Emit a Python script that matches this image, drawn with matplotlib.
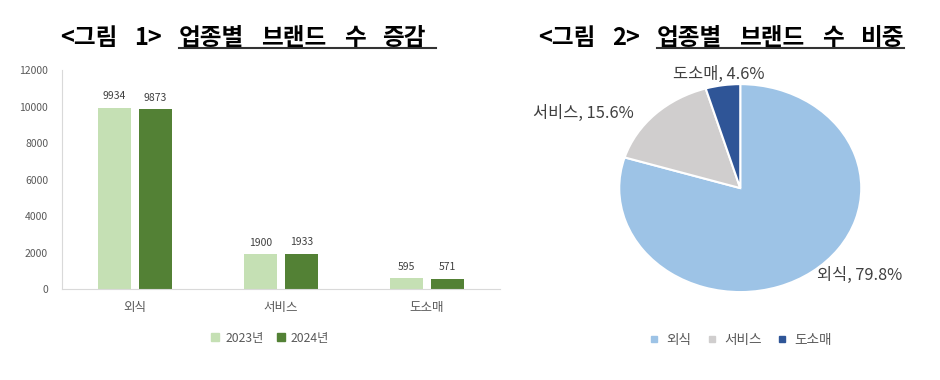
import matplotlib
matplotlib.use('Agg')
import matplotlib.pyplot as plt
import numpy as np
from matplotlib.lines import Line2D

plt.rcParams['font.family'] = ['Noto Sans CJK KR', 'DejaVu Sans']

# 데이터
categories = ['외식', '서비스', '도소매']
years = ['2023년', '2024년']
brands_2023 = [9934, 1900, 595]
brands_2024 = [9873, 1933, 571]
yticks = [0, 2000, 4000, 6000, 8000, 10000, 12000]

bar_colors = ['#C5E0B4', '#538135']
pie_colors = ['#9DC3E6', '#D0CECE', '#2F5597']
text_gray = '#595959'

fig = plt.figure(figsize=(9.4, 3.8), dpi=100)

# 그림 1: 막대 그래프
ax1 = fig.add_axes([0.066, 0.2395, 0.466, 0.576])
x = np.arange(len(categories))
w = 0.226
off = 0.14
for vals, col, sh in zip([brands_2023, brands_2024], bar_colors, [-off, off]):
    bars = ax1.bar(x + sh, vals, width=w, color=col)
    for b, v in zip(bars, vals):
        ax1.text(b.get_x() + b.get_width() / 2, v + 350, str(v),
                 ha='center', va='bottom', fontsize=7.5, color='#404040')

ax1.set_xlim(-0.5, 2.5)
ax1.set_ylim(0, 12000)
ax1.set_yticks(yticks)
ax1.set_xticks(x)
ax1.set_xticklabels(categories, fontsize=9, color=text_gray)
ax1.tick_params(axis='y', labelsize=7.5, colors=text_gray, length=0, pad=10)
ax1.tick_params(axis='x', length=0, pad=9)
for s in ['top', 'right']:
    ax1.spines[s].set_visible(False)
for s in ['left', 'bottom']:
    ax1.spines[s].set_color('#D9D9D9')

handles = [Line2D([], [], marker='s', ls='', color=c, markersize=6) for c in bar_colors]
fig.legend(handles, years, loc='center', bbox_to_anchor=(0.283, 0.11), ncol=2,
           frameon=False, fontsize=8.8, handletextpad=-0.2, columnspacing=0.4,
           labelcolor=text_gray)

# 그림 2: 원 그래프
ax2 = fig.add_axes([0.6266, 0.163, 0.3218, 0.684])
total = sum(brands_2024)
shares = [v / total * 100 for v in brands_2024]
ax2.pie(brands_2024, colors=pie_colors, startangle=90, counterclock=False,
        wedgeprops=dict(edgecolor='white', linewidth=1.5))
ax2.set_aspect('auto')
ax2.set_xlim(-1.25, 1.25)
ax2.set_ylim(-1.25, 1.25)

label_pos = [(0.99, -0.84), (-1.30, 0.72), (-0.18, 1.09)]
for cat, sh, pos in zip(categories, shares, label_pos):
    ax2.text(pos[0], pos[1], f'{cat}, {sh:.1f}%', ha='center', va='center',
             fontsize=11.8, color='#404040')

handles = [Line2D([], [], marker='s', ls='', color=c, markersize=4.5) for c in pie_colors]
fig.legend(handles, categories, loc='center', bbox_to_anchor=(0.783, 0.105), ncol=3,
           frameon=False, fontsize=9.8, handletextpad=-0.1, columnspacing=0.5,
           labelcolor=text_gray)

# 제목 (밑줄 포함)
fig.canvas.draw()
renderer = fig.canvas.get_renderer()
W = fig.bbox.width
TY = 1 - 38 / 380


def title(x0, prefix, words, ul_end):
    xs = x0 * W
    starts = []
    ends = []
    for i, wd in enumerate(prefix + words):
        t = fig.text(xs / W, TY, wd, fontsize=17, fontweight='bold',
                     va='center', ha='left', color='black')
        e = t.get_window_extent(renderer)
        starts.append(e.x0)
        ends.append(e.x1)
        xs = e.x1 + 17
    n = len(prefix)
    yl = 1 - 48 / 380
    x_end = ends[-1] + ul_end
    fig.add_artist(Line2D([starts[n] / W, x_end / W], [yl, yl], color='#333333', lw=1.5))


title(60 / 940, ['<그림', '1>'], ['업종별', '브랜드', '수', '증감'], 10)
title(538 / 940, ['<그림', '2>'], ['업종별', '브랜드', '수', '비중'], 0)

fig.savefig('out.png', dpi=100)
